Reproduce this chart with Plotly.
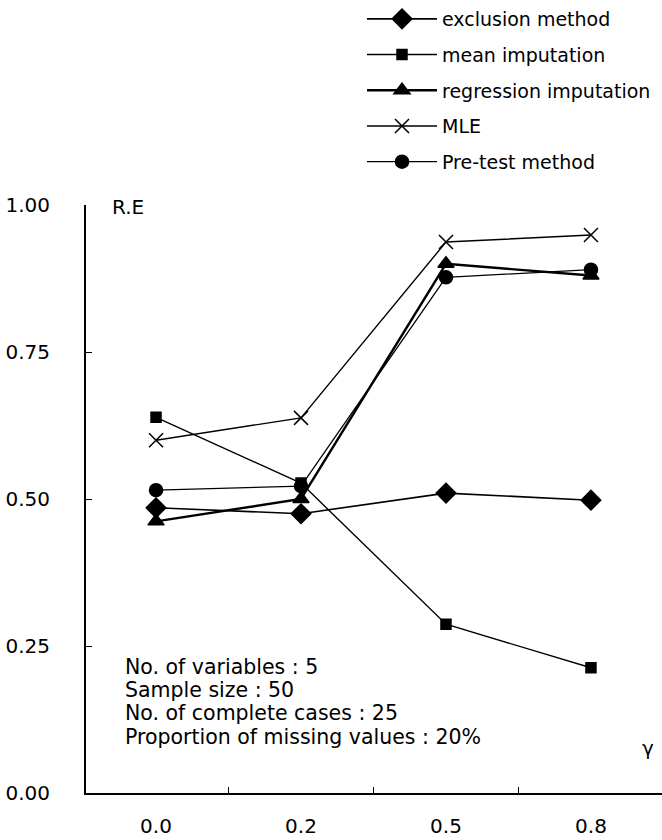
import plotly.graph_objects as go

gamma = ["0.0", "0.2", "0.5", "0.8"]
exclusion = [0.485, 0.475, 0.51, 0.498]
mean_imp = [0.639, 0.527, 0.287, 0.213]
regression = [0.462, 0.50, 0.90, 0.88]
mle = [0.60, 0.638, 0.937, 0.949]
pretest = [0.515, 0.522, 0.877, 0.89]

y_ticks = [0.0, 0.25, 0.5, 0.75, 1.0]
y_labels = ["0.00", "0.25", "0.50", "0.75", "1.00"]

info_lines = [
    "No. of variables : 5",
    "Sample size : 50",
    "No. of complete cases : 25",
    "Proportion of missing values : 20%",
]

FONT = "DejaVu Sans"
BLK = "black"

series = [
    ("exclusion method", exclusion, "diamond", 15, 1.6, "solid"),
    ("mean imputation", mean_imp, "square", 10, 1.4, "solid"),
    ("regression imputation", regression, "triangle-up", 14, 2.4, "solid"),
    ("MLE", mle, "x-thin-open", 14, 1.4, "solid"),
    ("Pre-test method", pretest, "circle", 13, 1.3, "solid"),
]

fig = go.Figure()
for i, (name, vals, sym, size, lw, dash) in enumerate(series):
    fig.add_trace(go.Scatter(
        x=gamma, y=vals, name=name, mode="lines+markers",
        legendgroup=f"g{i}",
        line=dict(color=BLK, width=lw, dash=dash),
        marker=dict(symbol=sym, size=size, color=BLK,
                    line=dict(color=BLK, width=1.5)),
    ))

ann = [
    dict(text="R.E", x=0.042, y=0.997, xref="paper", yref="paper",
         xanchor="left", yanchor="middle", showarrow=False,
         font=dict(family=FONT, size=20, color=BLK)),
    dict(text="γ", x=0.976, y=0.077, xref="paper", yref="paper",
         xanchor="center", yanchor="middle", showarrow=False,
         font=dict(family=FONT, size=20, color=BLK)),
]
info_y = [667, 690, 713, 737]
for t, py in zip(info_lines, info_y):
    ann.append(dict(text=t, x=(123 - 86) / 576, y=(793 - py) / 588,
                    xref="paper", yref="paper", xanchor="left",
                    yanchor="middle", showarrow=False,
                    font=dict(family=FONT, size=20.5, color=BLK)))

fig.update_layout(
    width=662, height=840,
    margin=dict(l=86, r=0, t=205, b=47, autoexpand=False),
    paper_bgcolor="white", plot_bgcolor="white",
    font=dict(family=FONT, size=20, color=BLK),
    showlegend=True,
    legend=dict(x=362 / 662, y=1.007, xref="container", yref="container",
                xanchor="left", yanchor="top",
                font=dict(family=FONT, size=19, color=BLK),
                bgcolor="rgba(0,0,0,0)", tracegroupgap=8, itemwidth=70,
                traceorder="grouped"),
    annotations=ann,
    xaxis=dict(type="category", range=[-0.483, 3.49], showline=True,
               linecolor=BLK, linewidth=2, ticks="inside", tickson="boundaries",
               ticklen=6, tickcolor=BLK, showgrid=False, zeroline=False,
               tickfont=dict(family=FONT, size=20, color=BLK),
               ticklabelstandoff=14),
    yaxis=dict(range=[0, 1], showline=True, linecolor=BLK, linewidth=2,
               ticks="inside", ticklen=6, tickcolor=BLK, tickvals=y_ticks,
               ticktext=y_labels, showgrid=False, zeroline=False,
               tickfont=dict(family=FONT, size=20, color=BLK),
               ticklabelstandoff=30),
)

fig.write_html("out.html")
